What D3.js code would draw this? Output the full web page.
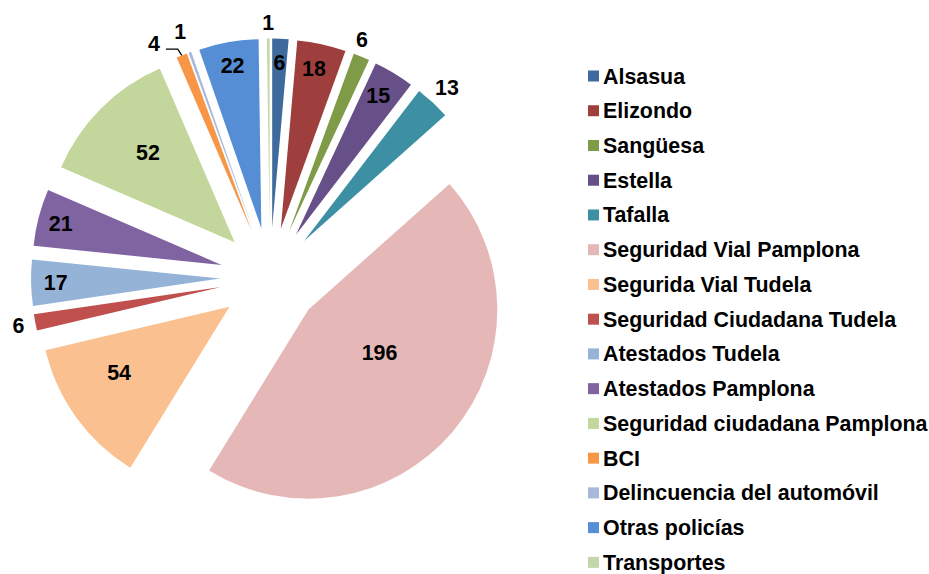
<!DOCTYPE html>
<html>
<head>
<meta charset="utf-8">
<script src="https://cdn.jsdelivr.net/npm/d3@7"></script>
<style>
  html, body { margin: 0; padding: 0; background: #ffffff; }
  svg { display: block; }
  text { font-family: "Liberation Sans", Arial, sans-serif; font-weight: bold; fill: #000; }
</style>
</head>
<body>
<svg id="chart" width="929" height="574"></svg>
<script>
// ---- data ----
const categories = [
  "Alsasua", "Elizondo", "Sangüesa", "Estella", "Tafalla",
  "Seguridad Vial Pamplona", "Segurida Vial Tudela", "Seguridad Ciudadana Tudela",
  "Atestados Tudela", "Atestados Pamplona", "Seguridad ciudadana Pamplona",
  "BCI", "Delincuencia del automóvil", "Otras policías", "Transportes"
];
const values = [6, 18, 6, 15, 13, 196, 54, 6, 17, 21, 52, 4, 1, 22, 1];
const colors = [
  "#3e6a9d", "#9e3f3d", "#7f9b48", "#674f87", "#3d90a4",
  "#e5b8b7", "#fac090", "#c0504d", "#95b3d7", "#8064a2",
  "#c3d69b", "#f79646", "#a7b8da", "#558ed5", "#c4d7aa"
];
// label placement: radius as fraction of pie radius, angular nudge (degrees)
const labelRadius = [0.873, 0.866, 1.085, 0.856, 1.11, 0.44, 0.68, 1.09, 0.87, 0.88, 0.66, 1.12, 1.12, 0.875, 1.085];
const labelShift  = [0, -0.8, -1.7, -0.7, 0, -9, 5, 0, 0, 0, 1, -5.8, -0.6, 0, 0];
const leaderLines = [false, false, false, false, false, false, false, false, false, false, false, true, false, false, false];

// ---- layout ----
const svg = d3.select("#chart");
const cx = 270, cy = 277.5, R = 189, explode = 50;
const fontSize = "21.4px";

const pie = d3.pie().sort(null).value(d => d)(values);
const arc = d3.arc().innerRadius(0).outerRadius(R);

const g = svg.append("g").attr("transform", `translate(${cx},${cy})`);

function offsetOf(d) {
  const m = (d.startAngle + d.endAngle) / 2;
  return [explode * Math.sin(m), -explode * Math.cos(m)];
}

g.selectAll("path.slice")
  .data(pie)
  .join("path")
  .attr("class", "slice")
  .attr("d", arc)
  .attr("fill", (d, i) => colors[i])
  .attr("transform", d => { const o = offsetOf(d); return `translate(${o[0]},${o[1]})`; });

// labels
pie.forEach((d, i) => {
  const o = offsetOf(d);
  const m = (d.startAngle + d.endAngle) / 2 + labelShift[i] * Math.PI / 180;
  const r = labelRadius[i] * R;
  const lx = o[0] + r * Math.sin(m), ly = o[1] - r * Math.cos(m);
  g.append("text")
    .attr("x", lx).attr("y", ly)
    .attr("dy", "0.36em")
    .attr("text-anchor", "middle")
    .style("font-size", fontSize)
    .text(values[i]);
  if (leaderLines[i]) {
    const mm = (d.startAngle + d.endAngle) / 2;
    const ex = o[0] + R * Math.sin(mm), ey = o[1] - R * Math.cos(mm);
    g.append("polyline")
      .attr("points", `${lx + 12},${ly + 6} ${ex - 4},${ly + 6} ${ex},${ey}`)
      .attr("fill", "none").attr("stroke", "#000").attr("stroke-width", 1.3);
  }
});

// legend
const legend = svg.append("g").attr("transform", "translate(588,76)");
const step = 34.74;
const items = legend.selectAll("g.item")
  .data(categories)
  .join("g")
  .attr("class", "item")
  .attr("transform", (d, i) => `translate(0,${i * step})`);
items.append("rect")
  .attr("x", 0).attr("y", -5.5).attr("width", 11).attr("height", 11)
  .attr("fill", (d, i) => colors[i]);
items.append("text")
  .attr("x", 15).attr("y", 7.5)
  .style("font-size", fontSize)
  .text(d => d);
</script>
</body>
</html>
